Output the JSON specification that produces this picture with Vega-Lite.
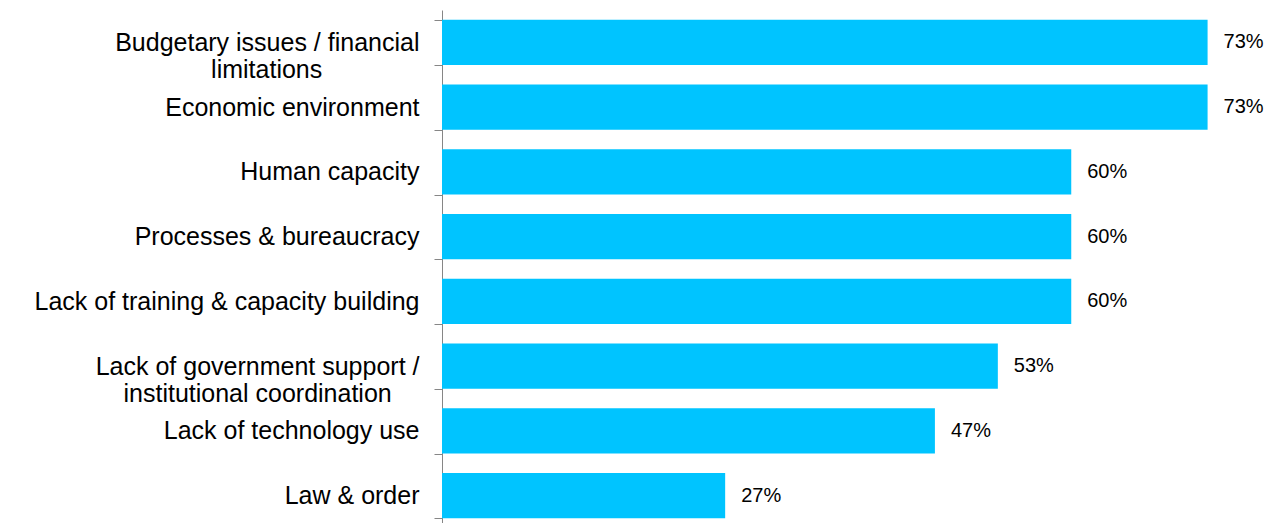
{
  "$schema": "https://vega.github.io/schema/vega-lite/v6.json",
  "autosize": "none",
  "padding": {"left": 442, "top": 10, "right": 0, "bottom": 0},
  "width": 839,
  "height": 518,
  "background": "white",
  "config": {"view": {"stroke": null}, "font": "Liberation Sans"},
  "data": {
    "values": [
      {"category": "Budgetary issues / financial|limitations\u00a0\u00a0\u00a0\u00a0\u00a0\u00a0\u00a0\u00a0\u00a0\u00a0\u00a0\u00a0\u00a0\u00a0\u2060", "value": 0.73, "label": "73%"},
      {"category": "Economic environment", "value": 0.73, "label": "73%"},
      {"category": "Human capacity", "value": 0.60, "label": "60%"},
      {"category": "Processes & bureaucracy", "value": 0.60, "label": "60%"},
      {"category": "Lack of training & capacity building", "value": 0.60, "label": "60%"},
      {"category": "Lack of government support /|institutional coordination\u00a0\u00a0\u00a0\u00a0\u2060", "value": 0.53, "label": "53%"},
      {"category": "Lack of technology use", "value": 0.47, "label": "47%"},
      {"category": "Law & order", "value": 0.27, "label": "27%"}
    ]
  },
  "encoding": {
    "y": {
      "field": "category",
      "type": "nominal",
      "sort": null,
      "scale": {"paddingInner": 0.3, "paddingOuter": 0.15},
      "axis": {
        "title": null,
        "domainColor": "#868686",
        "tickColor": "#868686",
        "tickSize": 8,
        "tickBand": "extent",
        "labelFontSize": 25,
        "labelLineHeight": 27,
        "labelColor": "#000000",
        "labelLimit": 600,
        "labelPadding": 15,
        "labelExpr": "split(datum.label, '|')"
      }
    },
    "x": {
      "field": "value",
      "type": "quantitative",
      "scale": {"domain": [0, 0.8], "nice": false},
      "axis": null
    }
  },
  "layer": [
    {"mark": {"type": "bar", "color": "#00C4FF"}},
    {
      "mark": {"type": "text", "align": "left", "baseline": "middle", "dx": 16, "fontSize": 20, "color": "#000000"},
      "encoding": {"text": {"field": "label"}}
    }
  ]
}
